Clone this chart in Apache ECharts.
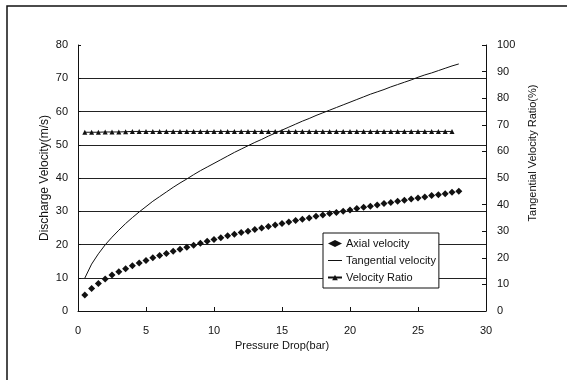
<!DOCTYPE html>
<html>
<head>
<meta charset="utf-8">
<style>
  html, body { margin: 0; padding: 0; background: #fff; }
  #chart { width: 567px; height: 380px; }
</style>
<script src="https://cdn.jsdelivr.net/npm/echarts@6/dist/echarts.min.js"></script>
</head>
<body>
<div id="chart"></div>
<script>
// Pressure drop (bar) for the axial / tangential velocity samples
const pressure = [0.5, 1, 1.5, 2, 2.5, 3, 3.5, 4, 4.5, 5, 5.5, 6, 6.5, 7, 7.5, 8, 8.5, 9, 9.5, 10,
  10.5, 11, 11.5, 12, 12.5, 13, 13.5, 14, 14.5, 15, 15.5, 16, 16.5, 17, 17.5, 18, 18.5, 19, 19.5, 20,
  20.5, 21, 21.5, 22, 22.5, 23, 23.5, 24, 24.5, 25, 25.5, 26, 26.5, 27, 27.5, 28];

// Axial velocity (m/s)
const axialVelocity = [4.8, 6.8, 8.3, 9.6, 10.8, 11.8, 12.7, 13.6, 14.4, 15.2, 16.0, 16.7, 17.3, 18.0, 18.6, 19.2, 19.8, 20.4, 21.0, 21.5,
  22.0, 22.6, 23.1, 23.6, 24.0, 24.5, 25.0, 25.4, 25.9, 26.3, 26.8, 27.2, 27.6, 28.0, 28.5, 28.9, 29.3, 29.6, 30.0, 30.4,
  30.8, 31.2, 31.5, 31.9, 32.3, 32.6, 33.0, 33.3, 33.7, 34.0, 34.3, 34.7, 35.0, 35.3, 35.7, 36.0];

// Tangential velocity (m/s)
const tangentialVelocity = [9.9, 14.1, 17.2, 19.9, 22.2, 24.3, 26.3, 28.1, 29.8, 31.4, 33.0, 34.4, 35.8, 37.2, 38.5, 39.7, 41.0, 42.2, 43.3, 44.4,
  45.5, 46.6, 47.7, 48.7, 49.7, 50.7, 51.6, 52.6, 53.5, 54.4, 55.3, 56.2, 57.1, 57.9, 58.8, 59.6, 60.4, 61.2, 62.0, 62.8,
  63.6, 64.4, 65.2, 65.9, 66.6, 67.4, 68.1, 68.8, 69.5, 70.3, 71.0, 71.6, 72.3, 73.0, 73.7, 74.3];

// Pressure drop (bar) for the velocity ratio samples
const ratioPressure = [0.5, 1, 1.5, 2, 2.5, 3, 3.5, 4, 4.5, 5, 5.5, 6, 6.5, 7, 7.5, 8, 8.5, 9, 9.5, 10,
  10.5, 11, 11.5, 12, 12.5, 13, 13.5, 14, 14.5, 15, 15.5, 16, 16.5, 17, 17.5, 18, 18.5, 19, 19.5, 20,
  20.5, 21, 21.5, 22, 22.5, 23, 23.5, 24, 24.5, 25, 25.5, 26, 26.5, 27, 27.5];

// Tangential velocity ratio (%)
const velocityRatio = [67.2, 67.2, 67.2, 67.3, 67.3, 67.3, 67.4, 67.5, 67.5, 67.5, 67.5, 67.5, 67.5, 67.5, 67.5, 67.5, 67.5, 67.5, 67.5, 67.5,
  67.5, 67.5, 67.5, 67.5, 67.5, 67.5, 67.5, 67.5, 67.5, 67.5, 67.5, 67.5, 67.5, 67.5, 67.5, 67.5, 67.5, 67.5, 67.5, 67.5,
  67.5, 67.5, 67.5, 67.5, 67.5, 67.5, 67.5, 67.5, 67.5, 67.5, 67.5, 67.5, 67.5, 67.5, 67.5];

const seriesNames = ['Axial velocity', 'Tangential velocity', 'Velocity Ratio'];
const xAxisTitle = 'Pressure Drop(bar)';
const leftAxisTitle = 'Discharge Velocity(m/s)';
const rightAxisTitle = 'Tangential Velocity Ratio(%)';

const pair = (xs, ys) => xs.map((x, i) => [x, ys[i]]);

const FONT = 'Liberation Sans, Arial, sans-serif';
const INK = '#111';
const GRID = '#222';
// one colour per horizontal split line (0 .. 80); the top edge is left open
const gridColours = [GRID, GRID, GRID, GRID, GRID, GRID, GRID, GRID, 'rgba(0,0,0,0)'];

// vertical axis titles, read bottom-to-top
const sideTitle = (text, x, y, size) => ({
  type: 'text',
  silent: true,
  x: x,
  y: y,
  rotation: Math.PI / 2,
  style: {
    text: text,
    font: size + 'px ' + FONT,
    fill: INK,
    align: 'center',
    verticalAlign: 'middle'
  }
});

const chart = echarts.init(document.getElementById('chart'), null, { renderer: 'canvas' });

chart.setOption({
  backgroundColor: '#fff',
  animation: false,
  textStyle: { fontFamily: FONT, color: INK },
  grid: { left: 78, right: 81, top: 45, bottom: 69, containLabel: false },
  legend: {
    orient: 'vertical',
    left: 323,
    top: 233,
    width: 120,
    padding: [5, 3, 5, 4],
    itemGap: 6,
    itemWidth: 14,
    itemHeight: 7,
    backgroundColor: '#fff',
    borderColor: INK,
    borderWidth: 1,
    textStyle: { fontFamily: FONT, fontSize: 11, color: INK, padding: [0, 0, 0, -1] },
    data: [
      { name: seriesNames[0], icon: 'diamond' },
      { name: seriesNames[1], icon: 'path://M0,0 H14 V1 H0 Z' },
      { name: seriesNames[2] }
    ]
  },
  xAxis: {
    type: 'value',
    min: 0,
    max: 30,
    interval: 5,
    name: xAxisTitle,
    nameLocation: 'middle',
    nameGap: 25,
    nameTextStyle: { fontFamily: FONT, fontSize: 11, color: INK },
    axisLine: { onZero: false, lineStyle: { color: INK, width: 1 } },
    axisTick: { inside: true, length: 4, lineStyle: { color: INK } },
    axisLabel: { margin: 14, fontFamily: FONT, fontSize: 11, color: INK },
    splitLine: { show: false }
  },
  yAxis: [
    {
      type: 'value',
      min: 0,
      max: 80,
      interval: 10,
      position: 'left',
      axisLine: { show: true, lineStyle: { color: INK, width: 1 } },
      axisTick: { show: true, inside: true, length: 3, lineStyle: { color: INK } },
      axisLabel: { margin: 10, fontFamily: FONT, fontSize: 11, color: INK },
      splitLine: { show: true, lineStyle: { color: gridColours, width: 1 } }
    },
    {
      type: 'value',
      min: 0,
      max: 100,
      interval: 10,
      position: 'right',
      axisLine: { show: true, lineStyle: { color: INK, width: 1 } },
      axisTick: { show: true, inside: true, length: 4, lineStyle: { color: INK } },
      axisLabel: { margin: 11, fontFamily: FONT, fontSize: 11, color: INK },
      splitLine: { show: false }
    }
  ],
  graphic: [
    {
      type: 'rect',
      silent: true,
      shape: { x: 7, y: 6, width: 600, height: 420 },
      style: { fill: 'none', stroke: INK, lineWidth: 1.5 },
      z: -1
    },
    sideTitle(leftAxisTitle, 45, 178, 12),
    sideTitle(rightAxisTitle, 533, 153, 11)
  ],
  series: [
    {
      name: seriesNames[0],
      type: 'scatter',
      yAxisIndex: 0,
      symbol: 'diamond',
      symbolSize: 7,
      itemStyle: { color: INK, opacity: 1 },
      data: pair(pressure, axialVelocity),
      z: 4
    },
    {
      name: seriesNames[1],
      type: 'line',
      yAxisIndex: 0,
      symbol: 'none',
      lineStyle: { color: INK, width: 1 },
      itemStyle: { color: INK },
      data: pair(pressure, tangentialVelocity),
      z: 3
    },
    {
      name: seriesNames[2],
      type: 'line',
      yAxisIndex: 1,
      symbol: 'triangle',
      symbolSize: 5,
      showAllSymbol: true,
      lineStyle: { color: INK, width: 1 },
      itemStyle: { color: INK },
      data: pair(ratioPressure, velocityRatio),
      z: 3
    }
  ]
});
</script>
</body>
</html>
